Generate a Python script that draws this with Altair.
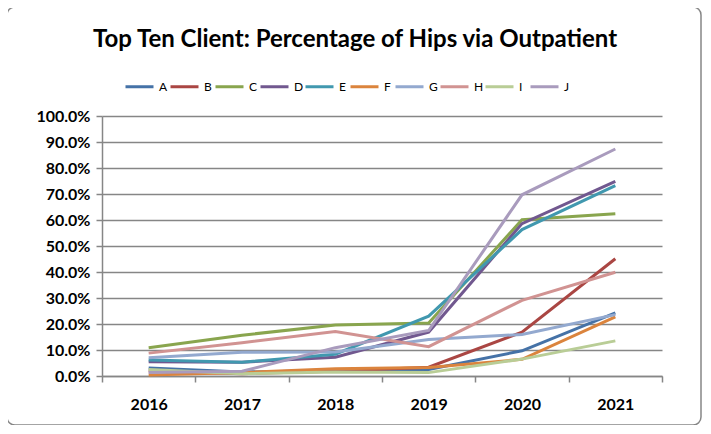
import altair as alt
import pandas as pd

years = ["2016", "2017", "2018", "2019", "2020", "2021"]
series_names = ["A", "B", "C", "D", "E", "F", "G", "H", "I", "J"]
A = [3.1, 1.5, 2.1, 2.5, 9.7, 24.3]
B = [1.9, 0.9, 1.8, 3.4, 16.9, 45.1]
C = [10.9, 15.7, 19.6, 20.4, 60.1, 62.4]
D = [5.5, 5.3, 7.2, 16.9, 58.6, 74.9]
E = [6.2, 5.3, 8.4, 23.0, 56.3, 73.2]
F = [0.4, 1.3, 2.8, 3.3, 6.4, 22.7]
G = [7.0, 9.1, 9.2, 14.0, 16.0, 23.6]
H = [8.8, 12.8, 17.1, 11.3, 29.1, 39.9]
I = [2.5, 0.9, 1.5, 1.3, 6.5, 13.5]
J = [1.3, 1.8, 10.9, 17.5, 69.7, 87.3]
colors = ["#4572A7", "#AA4643", "#89A54E", "#71588F", "#4198AF",
          "#DB843D", "#93A9CF", "#D19392", "#B9CD96", "#A99BBD"]

values = [A, B, C, D, E, F, G, H, I, J]
rows = []
for name, vals in zip(series_names, values):
    for y, v in zip(years, vals):
        rows.append({"Year": y, "Series": name, "Value": v / 100.0, "order": series_names.index(name)})
df = pd.DataFrame(rows)

FONT = "Lato"

lines = alt.Chart(df).mark_line(strokeWidth=3).encode(
    x=alt.X("Year:O", bandPosition=0.5, sort=years,
            scale=alt.Scale(type="band", paddingInner=0, paddingOuter=0),
            axis=alt.Axis(title=None, labelAngle=0, tickBand="extent", grid=False,
                          domainColor="#868686", domainWidth=1.5, tickColor="#868686",
                          tickWidth=1.5, tickSize=6, labelFontSize=16, labelFontWeight="bold",
                          labelFont=FONT, labelColor="black", labelPadding=14)),
    y=alt.Y("Value:Q",
            scale=alt.Scale(domain=[0, 1], nice=False),
            axis=alt.Axis(title=None, format=".1%", values=[i / 10 for i in range(11)],
                          grid=True, gridColor="#868686", gridWidth=1.5,
                          domainColor="#868686", domainWidth=1.5, tickColor="#868686",
                          tickWidth=1.5, tickSize=6, labelFontSize=16, labelFontWeight="bold",
                          labelFont=FONT, labelColor="black", labelPadding=6)),
    color=alt.Color("Series:N", sort=series_names,
                    scale=alt.Scale(domain=series_names, range=colors),
                    legend=alt.Legend(title=None, orient="none", direction="horizontal",
                                      legendX=22, legendY=-45, symbolType="stroke",
                                      symbolSize=784, symbolStrokeWidth=3,
                                      labelFont=FONT, labelFontSize=12, labelColor="black",
                                      gridAlign="all", columnPadding=-9, labelOffset=4,
                                      columns=10)),
    order=alt.Order("order:Q"),
)

border = alt.Chart(pd.DataFrame({"k": [0]})).mark_rect(
    fill=None, stroke="#868686", strokeWidth=1.5, cornerRadius=8
).encode(x=alt.value(-95), x2=alt.value(599), y=alt.value(-109), y2=alt.value(309))

chart = alt.layer(border, lines).properties(
    width=560, height=260,
    padding={"left": 94, "top": 108, "right": 40, "bottom": 49},
    autosize=alt.AutoSizeParams(type="none"),
    title=alt.TitleParams("Top Ten Client: Percentage of Hips via Outpatient",
                          font=FONT, fontSize=24, fontWeight="bold", color="black",
                          anchor="middle", dx=-27, offset=0, dy=46),
).configure_view(stroke=None)

chart.save("out.html", embed_options={"renderer": "svg", "actions": False})
